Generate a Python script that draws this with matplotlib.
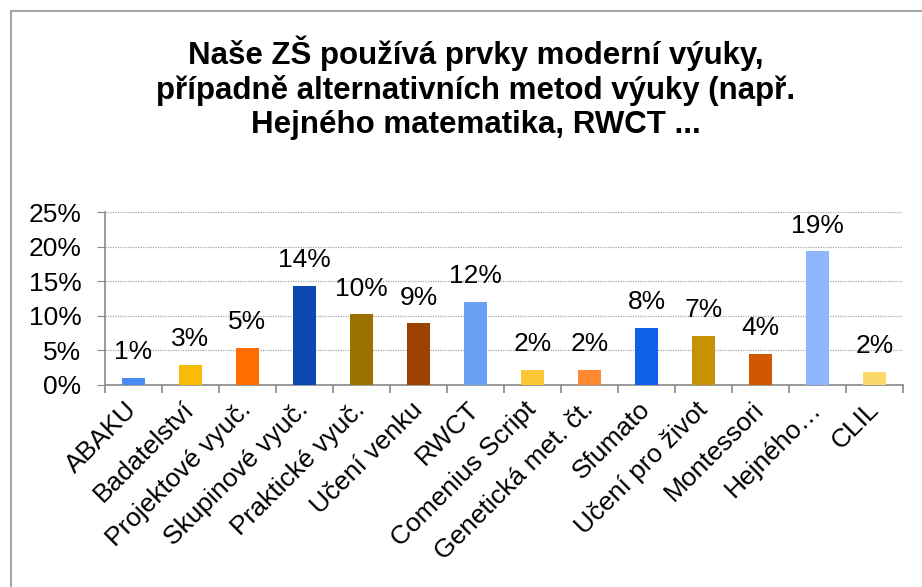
import matplotlib
matplotlib.use('Agg')
import matplotlib.pyplot as plt
from matplotlib.patches import Rectangle
from matplotlib.ticker import FuncFormatter, FixedLocator

plt.rcParams['font.family'] = ['Liberation Sans', 'DejaVu Sans']

categories = [
    'ABAKU', 'Badatelství', 'Projektové vyuč.', 'Skupinové vyuč.',
    'Praktické vyuč.', 'Učení venku', 'RWCT', 'Comenius Script',
    'Genetická met. čt.', 'Sfumato', 'Učení pro život', 'Montessori',
    'Hejného…', 'CLIL'
]
values = [1.0, 2.9, 5.3, 14.3, 10.2, 8.9, 12.0, 2.2, 2.2, 8.2, 7.1, 4.5, 19.3, 1.9]
value_labels = ['1%', '3%', '5%', '14%', '10%', '9%', '12%', '2%', '2%',
                '8%', '7%', '4%', '19%', '2%']
colors = ['#4a8af4', '#f9bc06', '#ff6d00', '#0b49b0', '#9a7000', '#9c4200',
          '#6aa0f4', '#fbc734', '#ff8a33', '#0d62e8', '#c59300', '#d15800',
          '#8fb6fa', '#fcd86a']
title = ('Naše ZŠ používá prvky moderní výuky,\n'
         'případně alternativních metod výuky (např.\n'
         'Hejného matematika, RWCT ...')

fig = plt.figure(figsize=(9.22, 5.87), dpi=100)
ax = fig.add_axes([105 / 922, 202 / 587, 798 / 922, 173 / 587])

x = list(range(len(categories)))
bars = ax.bar(x, values, width=0.4, color=colors, zorder=3)

for bar, lab in zip(bars, value_labels):
    ax.annotate(lab, (bar.get_x() + bar.get_width() / 2, bar.get_height()),
                xytext=(0, 10), textcoords='offset points',
                ha='center', va='bottom', fontsize=19)

ax.set_xlim(-0.5, len(categories) - 0.5)
ax.set_ylim(0, 25)
ax.set_yticks([0, 5, 10, 15, 20, 25])
ax.yaxis.set_major_formatter(FuncFormatter(lambda v, p: f'{v:.0f}%'))
ax.tick_params(axis='y', labelsize=19, length=6, color='#898989', pad=11)

ax.set_xticks(x)
ax.set_xticklabels(categories, rotation=45, ha='right', va='center',
                   rotation_mode='anchor', fontsize=19)
ax.tick_params(axis='x', length=0, pad=15)
ax.xaxis.set_minor_locator(FixedLocator([i - 0.5 for i in range(len(categories) + 1)]))
ax.tick_params(axis='x', which='minor', length=6, color='#898989', width=1.2)

ax.grid(axis='y', color='#a8a8a8', linestyle=(0, (1, 1)), linewidth=0.9, zorder=0)
for s in ['top', 'right']:
    ax.spines[s].set_visible(False)
for s in ['left', 'bottom']:
    ax.spines[s].set_color('#898989')
    ax.spines[s].set_linewidth(1.2)

fig.text(476 / 922, 1 - 88 / 587, title, ha='center', va='center',
         fontsize=22.5, fontweight='bold', linespacing=1.18)

fig.patches.append(Rectangle((11 / 922, -0.1), 1.2, 1.1 - 11 / 587,
                             transform=fig.transFigure, fill=False,
                             edgecolor='#a6a6a6', linewidth=1.5))

fig.savefig('out.png', dpi=100)
